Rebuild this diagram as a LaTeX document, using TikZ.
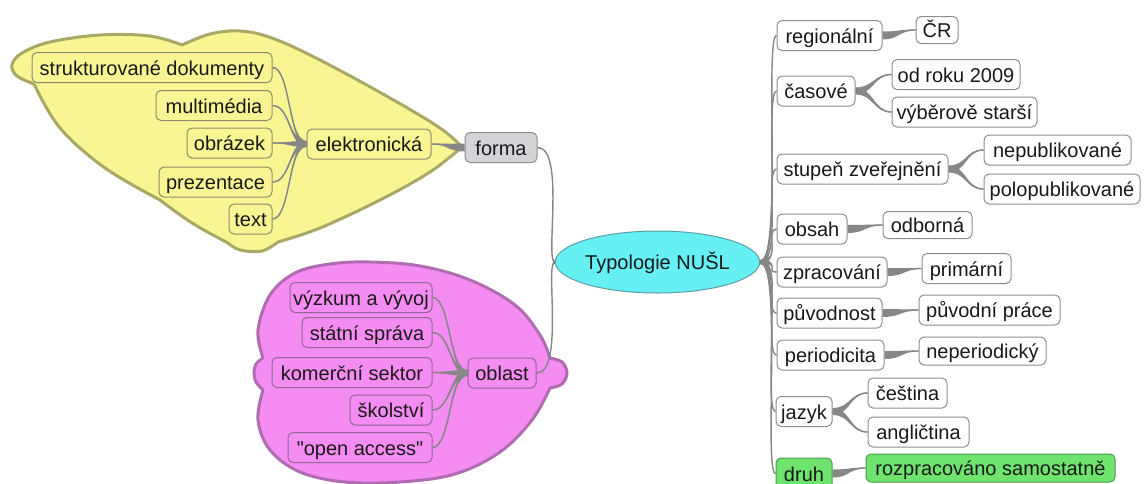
\documentclass[tikz,border=0pt]{standalone}
\usepackage{fontspec}
\newfontfamily\mmfont{Liberation Sans}
\usetikzlibrary{calc,shapes.geometric}
\pgfdeclarelayer{cloudlayer}
\pgfdeclarelayer{connlayer}
\pgfsetlayers{cloudlayer,connlayer,main}
\definecolor{ylwfill}{HTML}{F9F593}
\definecolor{ylwline}{HTML}{A9A867}
\definecolor{ylwbox}{HTML}{8E8C6C}
\definecolor{pnkfill}{HTML}{F58CF2}
\definecolor{pnkline}{HTML}{B06CB0}
\definecolor{pnkbox}{HTML}{946694}
\definecolor{boxgray}{HTML}{8E8E8E}
\definecolor{formafill}{HTML}{D3D3D8}
\definecolor{ctrfill}{HTML}{66F0F4}
\definecolor{ctrline}{HTML}{5C9EA2}
\definecolor{grnfill}{HTML}{6EE46E}
\definecolor{grnline}{HTML}{4E9A4E}
\definecolor{conncol}{HTML}{878787}
\tikzset{
  base/.style={rounded corners=5pt, minimum height=30pt, inner sep=0pt, line width=1pt,
    font=\mmfont\fontsize{20}{24}\selectfont, text=black!90, text height=19pt, text depth=4pt},
  wbox/.style={base, draw=boxgray, fill=white},
  ybox/.style={base, draw=ylwbox, fill=ylwfill},
  pbox/.style={base, draw=pnkbox, fill=pnkfill},
  fbox/.style={base, draw=boxgray, fill=formafill},
  gbox/.style={base, draw=grnline, fill=grnfill},
  ctrnode/.style={ellipse, draw=ctrline, fill=ctrfill, line width=1pt, inner sep=0pt,
    minimum width=172pt, minimum height=62pt, font=\mmfont\fontsize{20}{24}\selectfont,
    text=black!90, text height=19pt, text depth=4pt},
  ycloud/.style={fill=ylwfill, draw=ylwline, line width=3pt, line join=round},
  pcloud/.style={fill=pnkfill, draw=pnkline, line width=3pt, line join=round}
}
\newcommand\mmconn[5]{%
  \fill[conncol] ($(#1)+(0,#5)$) .. controls +(#3,0) and +(#4,0) .. ($(#2)+(0,0.5)$)
     -- ($(#2)+(0,-0.5)$) .. controls +(#4,0) and +(#3,0) .. ($(#1)+(0,-#5)$) -- cycle;
  \draw[conncol,line width=1.4pt] (#1) .. controls +(#3,0) and +(#4,0) .. (#2);}
\begin{document}
\begin{tikzpicture}[x=1pt,y=-1pt]
\useasboundingbox (0,0) rectangle (1146,483);
% centre
\node[ctrnode] (ctr) at (657.5,262) {Typologie NUŠL};
% left, yellow
\node[fbox,minimum width=72pt] (forma) at (501,147.5) {forma};
\node[ybox,minimum width=124pt] (elek) at (369,144) {elektronická};
\node[ybox,minimum width=240pt] (y1) at (152,67.5) {strukturované dokumenty};
\node[ybox,minimum width=116pt] (y2) at (214,105.5) {multimédia};
\node[ybox,minimum width=85pt] (y3) at (229.5,143) {obrázek};
\node[ybox,minimum width=113pt] (y4) at (215.5,182) {prezentace};
\node[ybox,minimum width=43pt] (y5) at (250.5,219) {text};
% left, pink
\node[pbox,minimum width=68pt] (oblast) at (502,373) {oblast};
\node[pbox,minimum width=142pt] (p1) at (361,297.5) {výzkum a vývoj};
\node[pbox,minimum width=130pt] (p2) at (367,332.5) {státní správa};
\node[pbox,minimum width=160pt] (p3) at (352,372.5) {komerční sektor};
\node[pbox,minimum width=82pt] (p4) at (391,410) {školství};
\node[pbox,minimum width=144pt] (p5) at (360,447.5) {"open access"};
% right, first column
\node[wbox,minimum width=105pt] (reg) at (829.5,35.5) {regionální};
\node[wbox,minimum width=78pt] (cas) at (816,91) {časové};
\node[wbox,minimum width=171pt] (stu) at (862.5,169) {stupeň zveřejnění};
\node[wbox,minimum width=70pt] (obs) at (812,229) {obsah};
\node[wbox,minimum width=110pt] (zpr) at (832,272) {zpracování};
\node[wbox,minimum width=105pt] (puv) at (829.5,313) {původnost};
\node[wbox,minimum width=107pt] (per) at (830.5,355) {periodicita};
\node[wbox,minimum width=56pt] (jaz) at (804,411.5) {jazyk};
\node[gbox,minimum width=56pt,minimum height=31pt] (dru) at (804,473.5) {druh};
% right, second column
\node[wbox,minimum width=42pt,minimum height=27pt] (cr) at (937,30) {ČR};
\node[wbox,minimum width=128pt] (od) at (956,74.5) {od roku 2009};
\node[wbox,minimum width=145pt] (vyb) at (964.5,112) {výběrově starší};
\node[wbox,minimum width=147pt] (nep) at (1057.5,150) {nepublikované};
\node[wbox,minimum width=156pt] (pol) at (1062,189) {polopublikované};
\node[wbox,minimum width=89pt,minimum height=27pt] (odb) at (927.5,225) {odborná};
\node[wbox,minimum width=89pt] (pri) at (966.5,268.5) {primární};
\node[wbox,minimum width=141pt] (puvp) at (989.5,310) {původní práce};
\node[wbox,minimum width=127pt,minimum height=28pt] (neper) at (982.5,351) {neperiodický};
\node[wbox,minimum width=79pt] (ces) at (907.5,393) {čeština};
\node[wbox,minimum width=101pt] (ang) at (918.5,432) {angličtina};
\node[gbox,minimum width=249pt,minimum height=28pt] (roz) at (990.5,468) {rozpracováno samostatně};
% connectors
\begin{pgfonlayer}{connlayer}
\mmconn{ctr.west}{forma.east}{-10}{28}{1.5}
\mmconn{ctr.west}{oblast.east}{-10}{28}{1.5}
\mmconn{forma.west}{elek.east}{-17}{17}{4}
\foreach \c in {y1,y2,y3,y4,y5} {\mmconn{elek.west}{\c.east}{-18}{18}{3}}
\foreach \c in {p1,p2,p3,p4,p5} {\mmconn{oblast.west}{\c.east}{-18}{18}{3}}
\foreach \c in {reg,cas,stu,obs,zpr,puv,per,jaz,dru} {\mmconn{ctr.east}{\c.west}{22}{-12}{2}}
\mmconn{reg.east}{cr.west}{17}{-17}{4}
\mmconn{cas.east}{od.west}{18}{-18}{3.5}
\mmconn{cas.east}{vyb.west}{18}{-18}{3.5}
\mmconn{stu.east}{nep.west}{18}{-18}{3.5}
\mmconn{stu.east}{pol.west}{18}{-18}{3.5}
\mmconn{obs.east}{odb.west}{18}{-18}{4}
\mmconn{zpr.east}{pri.west}{18}{-18}{4}
\mmconn{puv.east}{puvp.west}{18}{-18}{4}
\mmconn{per.east}{neper.west}{18}{-18}{4}
\mmconn{jaz.east}{ces.west}{18}{-18}{3.5}
\mmconn{jaz.east}{ang.west}{18}{-18}{3.5}
\mmconn{dru.east}{roz.west}{17}{-17}{4}
\end{pgfonlayer}
% clouds
\begin{pgfonlayer}{cloudlayer}
\path[ycloud] (34,84)
  -- plot[smooth,tension=0.6] coordinates {(34,84) (17,76) (12,65) (22,53) (50,42) (100,35) (150,36) (182,45)}
  -- plot[smooth,tension=0.6] coordinates {(182,45) (210,34) (240,31) (272,38) (320,60) (390,98) (440,128) (462,147)}
  -- plot[smooth,tension=0.6] coordinates {(462,147) (430,172) (380,200) (320,228) (278,242)}
  -- plot[smooth,tension=0.6] coordinates {(278,242) (262,251) (240,250) (228,243)}
  -- plot[smooth,tension=0.6] coordinates {(228,243) (192,223) (160,200)}
  -- plot[smooth,tension=0.6] coordinates {(160,200) (105,168) (60,128) (34,84)}
  -- cycle;
\path[pcloud] (263,358)
  -- plot[smooth,tension=0.6] coordinates {(263,358) (258,330) (270,295) (295,273) (330,264) (370,262) (420,266) (470,280) (515,305) (540,335) (550,358)}
  -- plot[smooth,tension=0.6] coordinates {(550,358) (562,362) (567,373) (562,384) (550,388)}
  -- plot[smooth,tension=0.6] coordinates {(550,388) (532,420) (500,452) (455,474) (400,482) (345,482) (300,472) (270,450) (258,420) (263,390)}
  -- plot[smooth,tension=0.6] coordinates {(263,390) (256,382) (254,373) (256,364) (263,358)}
  -- cycle;
\end{pgfonlayer}
\end{tikzpicture}
\end{document}
